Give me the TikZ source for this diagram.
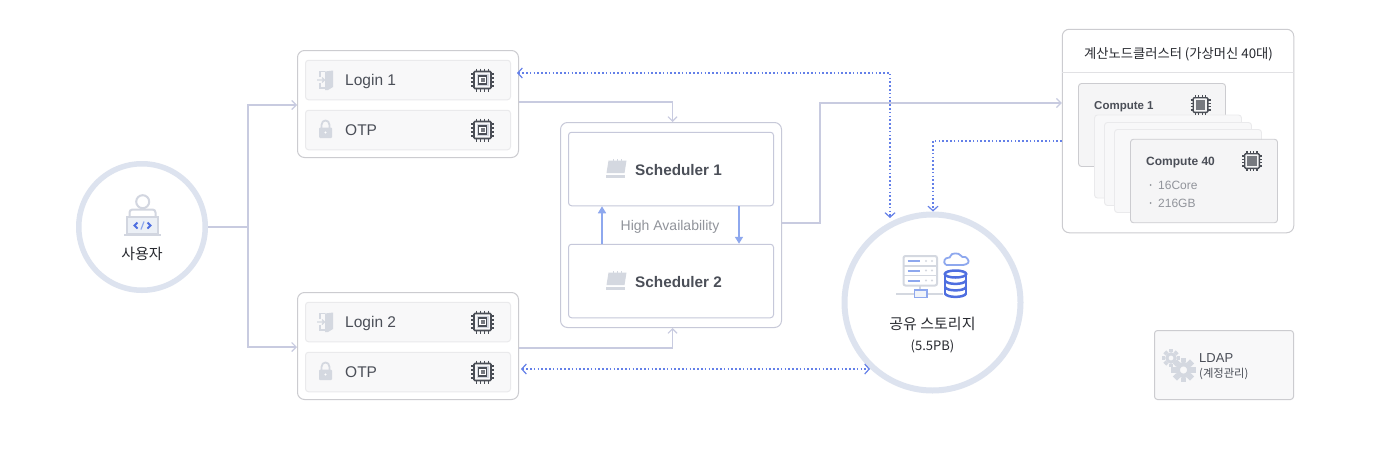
\documentclass[tikz,border=0pt]{standalone}
\usepackage{xcolor}
\usepackage{fontspec}
\usepackage{tikz}
\usetikzlibrary{arrows.meta, positioning, calc}
\setmainfont{Liberation Sans}
\newfontfamily\cjk{Noto Sans CJK KR}
\definecolor{myring}{RGB}{221,227,239}
\definecolor{myedge}{RGB}{204,204,208}
\definecolor{myrowedge}{RGB}{234,234,236}
\definecolor{myrowfill}{RGB}{248,248,249}
\definecolor{myslate}{RGB}{198,200,218}
\definecolor{mylink}{RGB}{200,203,224}
\definecolor{mydots}{RGB}{100,128,232}
\definecolor{myha}{RGB}{142,168,238}
\definecolor{myblue}{RGB}{79,111,224}
\definecolor{mytext}{RGB}{75,79,88}
\definecolor{mydark}{RGB}{40,42,48}
\definecolor{mygrey}{RGB}{145,148,155}
\definecolor{myicon}{RGB}{212,216,224}
\definecolor{mychip}{RGB}{74,78,86}
\definecolor{mycard}{RGB}{245,245,246}
\tikzset{
  ringnode/.style={circle, draw=myring, fill=white, line width=5.5pt, inner sep=0pt},
  outerbox/.style={rectangle, draw=myedge, fill=white, rounded corners=7pt, line width=1pt, inner sep=0pt},
  rowbox/.style={rectangle, draw=myrowedge, fill=myrowfill, rounded corners=3pt, line width=1pt,
    minimum width=205pt, minimum height=39.5pt, inner sep=0pt},
  schedbox/.style={rectangle, draw=myslate, fill=white, rounded corners=3pt, line width=1pt,
    minimum width=205pt, minimum height=73.5pt, inner sep=0pt},
  cardbox/.style={rectangle, draw=myedge, fill=mycard, rounded corners=3pt, line width=.9pt,
    minimum width=147pt, minimum height=83pt, inner sep=0pt},
  backcard/.style={cardbox, draw=myrowedge, fill=myrowfill},
  rowtext/.style={anchor=west, inner sep=0pt, text depth=0pt, text=mytext, font=\fontsize{15.5}{18}\selectfont},
  schedtext/.style={anchor=west, inner sep=0pt, text=mytext, font=\fontsize{15.3}{18}\selectfont\bfseries},
  cardtext/.style={anchor=west, inner sep=0pt, text depth=0pt, text=mytext, font=\fontsize{12}{14}\selectfont\bfseries},
  spectext/.style={anchor=west, inner sep=0pt, text=mygrey, font=\fontsize{12}{14}\selectfont},
  krtext/.style={inner sep=0pt, text=mydark, font=\cjk\fontsize{15}{18}\selectfont},
  flow/.style={draw=mylink, line width=1.1pt},
  flowarrow/.style={flow, -{Straight Barb[length=4.5pt,width=9pt,line width=1.1pt]}},
  dotline/.style={draw=mydots, line width=1.3pt, dash pattern=on 1.5pt off 2.3pt},
  dotarrow/.style={dotline, -{Straight Barb[length=4.5pt,width=10pt,line width=1.2pt]}},
  dotboth/.style={dotline, {Straight Barb[length=4.5pt,width=10pt,line width=1.2pt]}-{Straight Barb[length=4.5pt,width=10pt,line width=1.2pt]}},
  haarrow/.style={draw=myha, line width=1.6pt, -{Triangle[length=7pt,width=8pt]}},
  pics/chipicon/.style={code={
    \foreach \p in {-6,-2,2,6} {
      \draw[mychip, line width=1.3pt] (\p,-11.5) -- (\p,-8) (\p,8) -- (\p,11.5) (-11.5,\p) -- (-8,\p) (8,\p) -- (11.5,\p);
    }
    \draw[mychip, line width=1.6pt, rounded corners=1pt] (-8.5,-8.5) rectangle (8.5,8.5);
    \fill[myicon] (-6,-6) rectangle (6,6);
    \draw[mychip, line width=1.3pt, fill=white] (-4,-4) rectangle (4,4);
    \fill[mychip!75] (-2,-2) rectangle (2,2);
  }},
  pics/solidchip/.style={code={
    \foreach \p in {-5,-1.7,1.7,5} {
      \draw[mychip, line width=1.1pt] (\p,-10) -- (\p,-7) (\p,7) -- (\p,10) (-10,\p) -- (-7,\p) (7,\p) -- (10,\p);
    }
    \draw[mychip, line width=1.4pt, rounded corners=1pt] (-7.3,-7.3) rectangle (7.3,7.3);
    \fill[mychip!75] (-4.8,-4.8) rectangle (4.8,4.8);
  }},
  pics/dooricon/.style={code={
    \fill[myicon] (0,-8.5) -- (8,-9.5) -- (8,7) -- (3,10) -- (0,10) -- cycle;
    \draw[myicon, line width=1.2pt] (-8,0) -- (-1,0) (-3,-2.5) -- (-.5,0) -- (-3,2.5);
    \draw[myicon, line width=1.2pt] (-5,-3) -- (-5,-8.5) -- (0,-8.5) (-5,3) -- (-5,8) -- (0,8);
  }},
  pics/lockicon/.style={code={
    \draw[myicon, line width=1.8pt] (-4,-1) -- (-4,-4) .. controls (-4,-10) and (4,-10) .. (4,-4) -- (4,-1);
    \fill[myicon, rounded corners=1pt] (-6.5,-1.5) rectangle (6.5,9);
    \fill[white] (0,3.5) circle[radius=1.2pt];
  }},
  pics/padicon/.style={code={
    \fill[myicon] (-7,-8.5) -- (11,-8.5) -- (9,4) -- (-9,4) -- cycle;
    \fill[myicon] (-10,5.5) -- (9.5,5.5) -- (9.5,9) -- (-10,9) -- cycle;
    \foreach \p in {-3,1,5} {\fill[myicon] (\p,-10) rectangle (\p+1.2,-8.5);}
  }},
  pics/gearicon/.style={code={
    \foreach \a in {0,45,...,315} {
      \fill[myicon] (\a:0.7) ++(\a+90:0.26) -- ++(\a:0.4) -- ++(\a+90:-0.52) -- ++(\a:-0.4) -- cycle;
    }
  }}
}
\begin{document}
\begin{tikzpicture}[x=1pt, y=-1pt]
  \useasboundingbox[fill=white] (0,0) rectangle (1380,450);

  % User circle
  \node[ringnode, minimum size=126.5pt] (user) at (142,227) {};
  \draw[myicon!85!mylink, line width=2pt] (142.7,201.7) circle[radius=6.5pt];
  \draw[myicon!85!mylink, line width=2pt, rounded corners=3pt] (129.5,216) -- (129.5,209.5) -- (155.5,209.5) -- (155.5,216);
  \draw[myicon!85!mylink, line width=2pt, fill=myring!55] (127,216.5) rectangle (157.5,234);
  \draw[myicon!85!mylink, line width=2pt] (124,235) -- (161,235);
  \draw[myblue, line width=1.8pt] (137.5,222.5) -- (134.5,225.5) -- (137.5,228.5) (147.5,222.5) -- (150.5,225.5) -- (147.5,228.5);
  \draw[myha, line width=1.2pt] (144,221.5) -- (141,229.5);
  \node[krtext] (usertxt) at (142,254) {사용자};

  % Login group 1
  \node[outerbox, minimum width=221pt, minimum height=107pt] (login1) at (408,104) {};
  \node[rowbox] (login1row) at (408,80) {};
  \node[rowbox] (otp1row) at (408,130) {};
  \pic at (325,80) {dooricon};
  \pic at (325.5,129) {lockicon};
  \node[rowtext] (login1txt) at (345,80) {Login 1};
  \node[rowtext] (otp1txt) at (345,130) {OTP};
  \pic at (482.5,80) {chipicon};
  \pic at (482.5,130) {chipicon};

  % Login group 2
  \node[outerbox, minimum width=221pt, minimum height=107pt] (login2) at (408,346) {};
  \node[rowbox] (login2row) at (408,322) {};
  \node[rowbox] (otp2row) at (408,372) {};
  \pic at (325,322) {dooricon};
  \pic at (325.5,371) {lockicon};
  \node[rowtext] (login2txt) at (345,322) {Login 2};
  \node[rowtext] (otp2txt) at (345,372) {OTP};
  \pic at (482.5,322) {chipicon};
  \pic at (482.5,372) {chipicon};

  % Scheduler group
  \node[outerbox, draw=myslate!80!myedge, minimum width=221pt, minimum height=205pt] (sched) at (671,225) {};
  \node[schedbox] (sched1) at (671,169) {};
  \node[schedbox] (sched2) at (671,281) {};
  \pic at (615.5,169) {padicon};
  \pic at (615.5,281) {padicon};
  \node[schedtext] (sched1txt) at (635,170) {Scheduler 1};
  \node[schedtext] (sched2txt) at (635,282) {Scheduler 2};
  \node[inner sep=0pt, text=mygrey, font=\fontsize{14}{16}\selectfont] (hatxt) at (670,226.5) {High Availability};
  \draw[haarrow] ([xshift=-69pt]sched2.north) -- ([xshift=-69pt]sched1.south);
  \draw[haarrow] ([xshift=68pt]sched1.south) -- ([xshift=68pt]sched2.north);

  % Shared storage circle
  \node[ringnode, line width=6pt, minimum size=176pt] (storage) at (932.5,302.5) {};
  \draw[myicon, line width=2pt, rounded corners=2pt] (903.5,256) rectangle (937,285.5);
  \draw[myicon, line width=1.6pt] (903.5,266) -- (937,266) (903.5,275.5) -- (937,275.5);
  \draw[myha, line width=2pt] (907.5,261) -- (920,261) (907.5,270.5) -- (920,270.5) (907.5,280.5) -- (920,280.5);
  \foreach \r in {261,270.5,280.5} {
    \fill[myicon] (926,\r) circle[radius=1.2pt] (932,\r) circle[radius=1.2pt];
  }
  \draw[myicon, line width=2pt] (920,286) -- (920,290) (896,294) -- (914,294) (927,294) -- (943,294);
  \draw[myha, line width=1.6pt, fill=myring!40] (914.5,290) rectangle (927,297.5);
  \draw[myha, line width=1.8pt, rounded corners=3pt] (946,265) -- (966,265) .. controls (970,261) and (966,256.5) .. (962,258) .. controls (959,252.5) and (951,253) .. (950.5,258.5) .. controls (945.5,257.5) and (942,262) .. (946,265);
  \draw[myblue, line width=2.5pt] (955.5,274) ellipse [x radius=10.7pt, y radius=3.5pt];
  \draw[myblue, line width=2.5pt] (944.8,274) -- (944.8,293.5) (966.2,274) -- (966.2,293.5);
  \draw[myblue, line width=2.5pt] (944.8,280.5) .. controls (947,285) and (964,285) .. (966.2,280.5);
  \draw[myblue, line width=2.5pt] (944.8,287) .. controls (947,291.5) and (964,291.5) .. (966.2,287);
  \draw[myblue, line width=2.5pt] (944.8,293.5) .. controls (947,298) and (964,298) .. (966.2,293.5);
  \node[krtext] (storagetxt) at (932.5,324) {공유 스토리지};
  \node[krtext, font=\cjk\fontsize{13}{15}\selectfont] (sizetxt) at (932.5,346) {(5.5PB)};

  % Compute cluster
  \node[outerbox, draw=myedge, minimum width=231.5pt, minimum height=203.5pt] (cluster) at (1178,131) {};
  \coordinate (headl) at (1062.3,72);
  \draw[draw=myrowedge!70!myedge, line width=1pt] (headl) -- (headl -| cluster.east);
  \node[krtext, font=\cjk\fontsize{13.3}{15}\selectfont] (clustertxt) at (1178.5,54) {계산노드클러스터 (가상머신 40대)};
  \node[cardbox] (comp1) at (1152,125) {};
  \node[backcard] (card2) at (1168,156.5) {};
  \node[backcard] (card3) at (1178,164) {};
  \node[backcard] (card4) at (1188,171) {};
  \node[cardbox, minimum height=83.5pt] (comp40) at (1204,181) {};
  \node[cardtext, font=\fontsize{11.5}{14}\selectfont\bfseries] (comp1txt) at (1094,105.5) {Compute 1};
  \node[cardtext] (comp40txt) at (1146,161.5) {Compute 40};
  \pic at (1200.5,105) {solidchip};
  \pic at (1252,161) {solidchip};
  \fill[mygrey] (1150.5,185) circle[radius=1pt] (1150.5,203) circle[radius=1pt];
  \node[spectext] (coretxt) at (1158,185) {16Core};
  \node[spectext] (memtxt) at (1158,203) {216GB};

  % LDAP box
  \node[outerbox, fill=myrowfill, rounded corners=3pt, minimum width=139pt, minimum height=69pt] (ldap) at (1224,365) {};
  \pic[scale=8] at (1171,358) {gearicon};
  \pic[scale=11] at (1183.5,370) {gearicon};
  \draw[myicon, line width=3pt] (1171,358) circle[radius=4.2pt];
  \draw[myicon, line width=4.4pt] (1183.5,370) circle[radius=5.8pt];
  \node[spectext, text=mytext, font=\fontsize{13}{15}\selectfont] (ldaptxt) at (1199,358) {LDAP};
  \node[spectext, text=mytext, font=\cjk\fontsize{11.3}{13}\selectfont] (ldapsub) at (1199,373.5) {(계정관리)};

  % Solid links
  \coordinate (trunk) at (248,227);
  \coordinate (riser) at (820,223);
  \coordinate (risertop) at (820,103);
  \draw[flow] (user) -- (trunk);
  \draw[flowarrow] (trunk) |- ([yshift=-1pt]login1.west);
  \draw[flowarrow] (trunk) |- ([yshift=-1pt]login2.west);
  \draw[flowarrow] ([yshift=2pt]login1.east) -| ([xshift=1.5pt]sched.north);
  \draw[flowarrow] ([yshift=-2pt]login2.east) -| ([xshift=1.5pt]sched.south);
  \draw[flowarrow] (sched.east |- riser) -- (riser) -- (risertop) -- (risertop -| cluster.west);

  % Dotted links to storage
  \coordinate (tapin) at (890,73);
  \coordinate (tapend) at (890,218);
  \coordinate (backbend) at (933,141);
  \coordinate (otptap) at (870,369);
  \draw[dotboth] ([shift={(6pt,7pt)}]login1row.east) -- (tapin) -- (tapend);
  \draw[dotarrow] (backbend -| cluster.west) -- (backbend) -- (storage.north -| backbend);
  \draw[dotboth] ([shift={(10pt,3pt)}]otp2row.east) -- (otptap);
\end{tikzpicture}
\end{document}
